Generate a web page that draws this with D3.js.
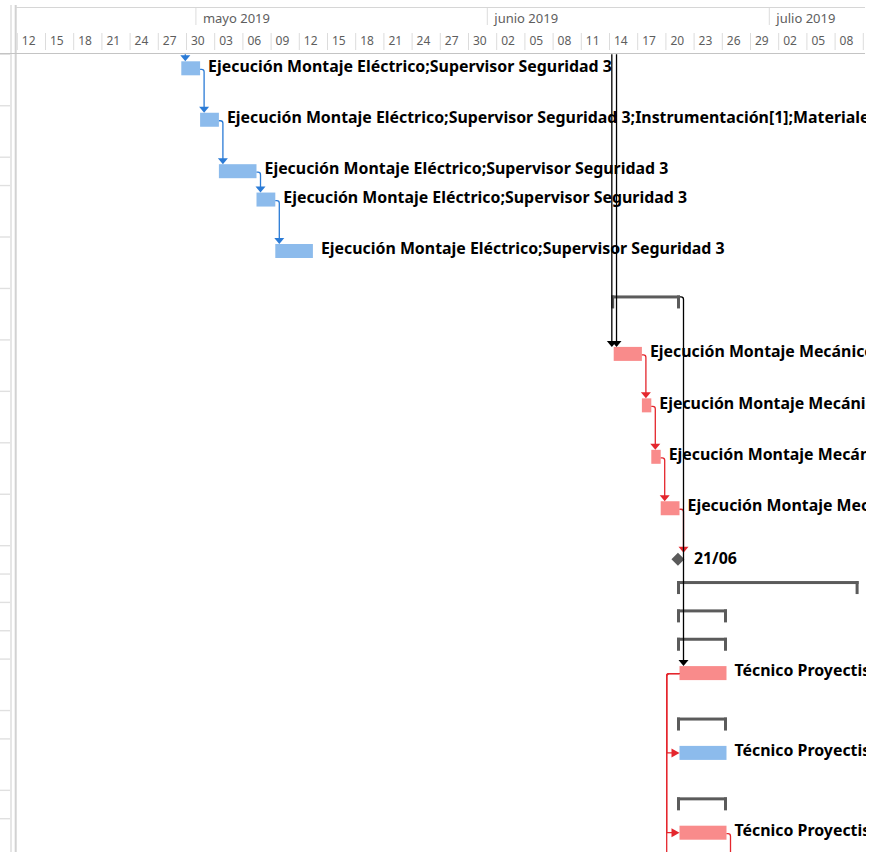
<!DOCTYPE html>
<html>
<head>
<meta charset="utf-8">
<script src="https://cdn.jsdelivr.net/npm/d3@7"></script>
<style>
body { margin: 0; background: #fff; }
svg { display: block; }
.tier text { font-family: "Segoe UI", "Noto Sans", sans-serif; fill: #5e5e5e; }
.lbl { font-family: "Noto Sans", sans-serif; font-weight: bold; font-size: 15.9px; fill: #000; }
</style>
</head>
<body>
<div id="chart"></div>
<script>
// timescale
var monthDates = ["2019-05-01", "2019-06-01", "2019-07-01"];
var monthLabels = ["mayo 2019", "junio 2019", "julio 2019"];
var firstDay = "2019-04-12";
var lastDay = "2019-07-12";

// tasks, one per row
var taskNames = [
	"Ejecución Montaje Eléctrico;Supervisor Seguridad 3",
	"Ejecución Montaje Eléctrico;Supervisor Seguridad 3;Instrumentación[1];Materiales",
	"Ejecución Montaje Eléctrico;Supervisor Seguridad 3",
	"Ejecución Montaje Eléctrico;Supervisor Seguridad 3",
	"Ejecución Montaje Eléctrico;Supervisor Seguridad 3",
	"",
	"Ejecución Montaje Mecánico;Supervisor Seguridad 3",
	"Ejecución Montaje Mecánico;Supervisor Seguridad 3",
	"Ejecución Montaje Mecánico;Supervisor Seguridad 3",
	"Ejecución Montaje Mecánico;Supervisor Seguridad 3",
	"21/06",
	"",
	"",
	"",
	"Técnico Proyectista",
	"",
	"Técnico Proyectista",
	"",
	"Técnico Proyectista"
];
var taskStart = [
	"2019-04-29T12:00", "2019-05-01T12:00", "2019-05-03T12:00", "2019-05-07T12:00", "2019-05-09T12:00",
	"2019-06-14T12:00", "2019-06-14T12:00", "2019-06-17T12:00", "2019-06-18T12:00", "2019-06-19T12:00",
	"2019-06-21T08:00", "2019-06-21T12:00", "2019-06-21T12:00", "2019-06-21T12:00", "2019-06-21T12:00",
	"2019-06-21T12:00", "2019-06-21T12:00", "2019-06-21T12:00", "2019-06-21T12:00"
];
var taskFinish = [
	"2019-05-01T12:00", "2019-05-03T12:00", "2019-05-07T12:00", "2019-05-09T12:00", "2019-05-13T12:00",
	"2019-06-21T12:00", "2019-06-17T12:00", "2019-06-18T12:00", "2019-06-19T12:00", "2019-06-21T12:00",
	"2019-06-21T08:00", "2019-07-10T12:00", "2019-06-26T12:00", "2019-06-26T12:00", "2019-06-26T12:00",
	"2019-06-26T12:00", "2019-06-26T12:00", "2019-06-26T12:00", "2019-06-26T12:00"
];
var taskKind = [
	"task", "task", "task", "task", "task",
	"summary", "task", "task", "task", "task",
	"milestone", "summary", "summary", "summary", "task",
	"summary", "task", "summary", "task"
];
var taskCritical = [
	false, false, false, false, false,
	false, true, true, true, true,
	true, false, false, false, true,
	false, false, false, true
];
// number of text lines of the row in the task table
var taskLines = [2, 2, 1, 2, 2, 2, 2, 2, 2, 2, 1, 1, 1, 1, 2, 1, 2, 1, 2];

// links between rows
var linkFrom = [0, 1, 2, 3, 6, 7, 8, 9, 5, 14, 14];
var linkTo = [1, 2, 3, 4, 7, 8, 9, 10, 14, 16, 18];
var linkType = ["FS", "FS", "FS", "FS", "FS", "FS", "FS", "FS", "FS", "SS", "SS"];
var linkKind = ["normal", "normal", "normal", "normal", "critical", "critical", "critical", "critical", "other", "critical", "critical"];

// links coming from rows above the view
var inTo = [0, 6, 6];
var inPredFinish = ["2019-04-29T12:00", "2019-06-13T21:00", "2019-06-14T09:00"];
var inKind = ["normal", "other", "other"];

// links going to rows below the view
var outFrom = [14, 18];
var outType = ["SS", "FS"];
var outKind = ["critical", "critical"];

var W = 885, H = 852;
var bodyTop = 54.3, viewRight = 866;
var lineH = [0, 28.35, 51.45];

var barColor = { normal: "#8cbbec", critical: "#f98b8b" };
var linkColor = { normal: "#2b7bd6", critical: "#e4262d", other: "#000" };
var parse = d3.timeParse("%Y-%m-%dT%H:%M");
var parseDay = d3.timeParse("%Y-%m-%d");

window.onload = function () {
	var svg = d3.select("#chart").append("svg").attr("width", W).attr("height", H);

	var x = d3.scaleTime()
		.domain([parseDay("2019-04-30"), parseDay("2019-07-02")])
		.range([186, 186 + 63 * 9.4]);

	var rowH = taskLines.map(function (n) { return lineH[n]; });
	var rowTop = [bodyTop];
	d3.cumsum(rowH).forEach(function (s) { rowTop.push(bodyTop + s); });

	svg.append("clipPath").attr("id", "view").append("rect")
		.attr("x", 17).attr("y", 0).attr("width", viewRight - 17).attr("height", H);

	// left table edge
	svg.selectAll("line.rowsep").data(rowTop).enter().append("line")
		.attr("x1", 0).attr("x2", 10).attr("y1", function (d) { return d; }).attr("y2", function (d) { return d; })
		.style("stroke", "#e0e0e0").style("stroke-width", 1.4);
	svg.append("line").attr("x1", 11).attr("x2", 11).attr("y1", 5).attr("y2", H)
		.style("stroke", "#e6e6e6").style("stroke-width", 2);
	svg.append("line").attr("x1", 15.7).attr("x2", 15.7).attr("y1", 5).attr("y2", H)
		.style("stroke", "#d2d2d2").style("stroke-width", 2);

	// header
	svg.append("line").attr("x1", 16).attr("x2", 865).attr("y1", 7.5).attr("y2", 7.5)
		.style("stroke", "#d6d6d6");
	svg.append("line").attr("x1", 0).attr("x2", 865).attr("y1", 53.5).attr("y2", 53.5)
		.style("stroke", "#c4c4c4").style("stroke-width", 1.2);

	var hdr = svg.append("g").attr("clip-path", "url(#view)");

	var monthAxis = d3.axisTop(x)
		.tickValues(monthDates.map(parseDay))
		.tickFormat(function (d, i) { return monthLabels[i]; })
		.tickSize(17);
	var mg = hdr.append("g").attr("class", "tier").attr("transform", "translate(0,25)").call(monthAxis);
	mg.select(".domain").remove();
	mg.selectAll(".tick line").style("stroke", "#dcdcdc");
	mg.selectAll(".tick text").attr("x", 7).attr("y", -2).attr("dy", null)
		.style("text-anchor", "start").style("font-size", "13px");

	var days = d3.timeDay.range(parseDay(firstDay), parseDay(lastDay), 3);
	var dayAxis = d3.axisTop(x)
		.tickValues(days)
		.tickFormat(d3.timeFormat("%d"))
		.tickSize(17);
	var dg = hdr.append("g").attr("class", "tier").attr("transform", "translate(0,50)").call(dayAxis);
	dg.select(".domain").remove();
	dg.selectAll(".tick line").style("stroke", "#dcdcdc");
	dg.selectAll(".tick text").attr("x", 4.5).attr("y", -5).attr("dy", null)
		.style("text-anchor", "start").style("font-size", "12px");

	// rows
	var tasks = taskNames.map(function (n, i) {
		return {
			name: n, s: parse(taskStart[i]), f: parse(taskFinish[i]),
			kind: taskKind[i], crit: taskCritical[i], top: rowTop[i]
		};
	});

	var body = svg.append("g").attr("clip-path", "url(#view)");

	var bars = tasks.filter(function (d) { return d.kind == "task"; });
	body.selectAll("rect.bar").data(bars).enter().append("rect")
		.attr("class", "bar")
		.attr("x", function (d) { return x(d.s); })
		.attr("y", function (d) { return d.top + 7; })
		.attr("width", function (d) { return x(d.f) - x(d.s); })
		.attr("height", 14)
		.style("fill", function (d) { return d.crit ? barColor.critical : barColor.normal; });

	var sums = tasks.filter(function (d) { return d.kind == "summary"; });
	var sg = body.selectAll("g.sum").data(sums).enter().append("g").attr("class", "sum")
		.attr("transform", function (d) { return "translate(0," + (d.top + 7) + ")"; });
	sg.append("rect").attr("x", function (d) { return x(d.s) - 2.5; }).attr("y", 0)
		.attr("width", function (d) { return x(d.f) - x(d.s) + 3; }).attr("height", 3);
	sg.append("rect").attr("x", function (d) { return x(d.s) - 2.5; }).attr("y", 0)
		.attr("width", 3).attr("height", 13);
	sg.append("rect").attr("x", function (d) { return x(d.f) - 2.5; }).attr("y", 0)
		.attr("width", 3).attr("height", 13);
	sg.selectAll("rect").style("fill", "#5b5b5b");

	var miles = tasks.filter(function (d) { return d.kind == "milestone"; });
	body.selectAll("path.mile").data(miles).enter().append("path")
		.attr("d", function (d) {
			var cx = x(d.f), cy = d.top + 13.6;
			return "M" + cx + "," + (cy - 6.5) + "L" + (cx + 6.5) + "," + cy + "L" + cx + "," + (cy + 6.5) + "L" + (cx - 6.5) + "," + cy + "Z";
		})
		.style("fill", "#5a5a5a");

	// labels
	body.selectAll("text.lbl").data(tasks.filter(function (d) { return d.name != ""; })).enter().append("text")
		.attr("class", "lbl")
		.attr("x", function (d) { return d.kind == "milestone" ? x(d.f) + 16 : x(d.f) + 8; })
		.attr("y", function (d) { return d.kind == "milestone" ? d.top + 17.8 : d.top + 17.2; })
		.text(function (d) { return d.name; });

	// links
	var lg = body.append("g");
	function targetTop(t) { return t.kind == "milestone" ? t.top + 7.1 : t.top + 7; }
	function srcY(t) { return t.kind == "summary" ? t.top + 8.5 : t.top + 15; }
	function srcX(t) { return t.kind == "summary" ? x(t.f) + 0.5 : x(t.f); }

	function downArrow(vx, tip, col) {
		lg.append("path").attr("d", "M" + (vx - 5) + "," + (tip - 6) + "L" + (vx + 5) + "," + (tip - 6) + "L" + vx + "," + tip + "Z")
			.style("fill", col);
	}
	function rightArrow(tx, ty, col) {
		lg.append("path").attr("d", "M" + (tx - 8) + "," + (ty - 4.5) + "L" + (tx - 8) + "," + (ty + 4.5) + "L" + tx + "," + ty + "Z")
			.style("fill", col);
	}
	function line(d, col) {
		lg.append("path").attr("d", d).style("fill", "none").style("stroke", col).style("stroke-width", 1.3);
	}
	function fs(a, b, kind) {
		var x1 = srcX(a), y1 = srcY(a), vx = x(a.f) + 4;
		var tip = b ? targetTop(b) : H + 10;
		var col = linkColor[kind];
		line("M" + x1 + "," + y1 + "H" + (vx - 2.5) + "Q" + vx + "," + y1 + " " + vx + "," + (y1 + 2.5) + "V" + (tip - 5), col);
		if (b) downArrow(vx, tip, col);
	}
	function ss(a, b, kind) {
		var x1 = x(a.s), y1 = a.top + 14.5, vx = x(a.s) - 12.8;
		var col = linkColor[kind];
		if (b) {
			var ty = b.top + 14;
			line("M" + x1 + "," + y1 + "H" + (vx + 2.5) + "Q" + vx + "," + y1 + " " + vx + "," + (y1 + 2.5) + "V" + ty + "H" + (x(b.s) - 7), col);
			rightArrow(x(b.s), ty, col);
		} else {
			line("M" + x1 + "," + y1 + "H" + (vx + 2.5) + "Q" + vx + "," + y1 + " " + vx + "," + (y1 + 2.5) + "V" + (H + 10), col);
		}
	}

	inTo.forEach(function (t, i) {
		var vx = x(parse(inPredFinish[i])) + 4;
		var tip = targetTop(tasks[t]);
		line("M" + vx + "," + bodyTop + "V" + (tip - 5), linkColor[inKind[i]]);
		downArrow(vx, tip, linkColor[inKind[i]]);
	});
	linkFrom.forEach(function (f, i) {
		if (linkType[i] == "FS") fs(tasks[f], tasks[linkTo[i]], linkKind[i]);
		else ss(tasks[f], tasks[linkTo[i]], linkKind[i]);
	});
	outFrom.forEach(function (f, i) {
		if (outType[i] == "FS") fs(tasks[f], null, outKind[i]);
		else ss(tasks[f], null, outKind[i]);
	});
};
</script>
</body>
</html>
